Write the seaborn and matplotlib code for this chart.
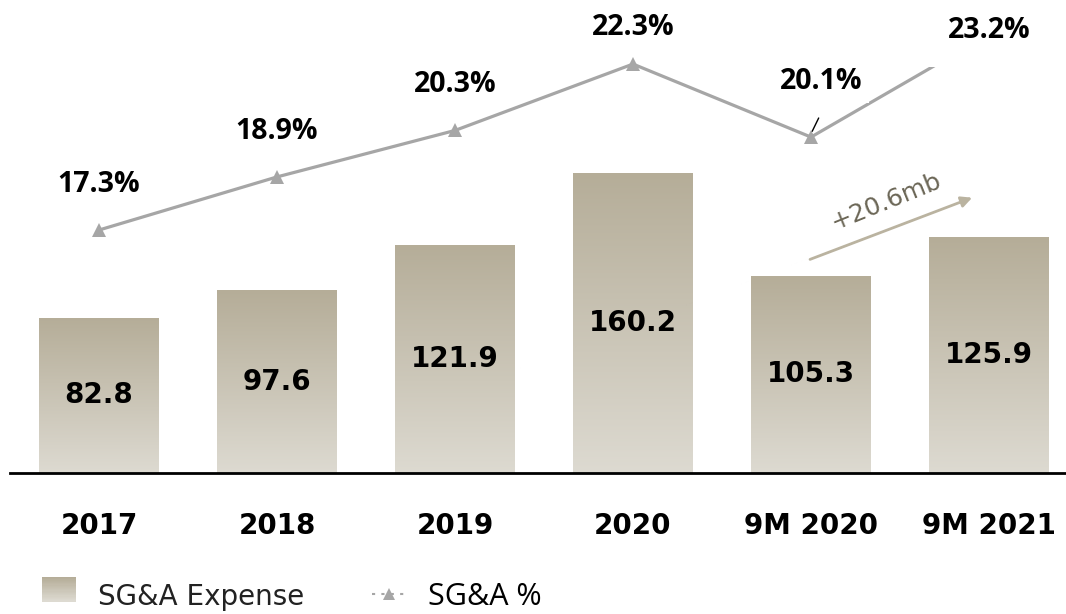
import numpy as np
import pandas as pd
import matplotlib
matplotlib.use("Agg")
from matplotlib import pyplot as plt
from matplotlib.patches import Rectangle
from matplotlib.lines import Line2D
from matplotlib.legend_handler import HandlerBase
import seaborn as sns

# chart data
periods = ["2017", "2018", "2019", "2020", "9M 2020", "9M 2021"]
expense = [82.8, 97.6, 121.9, 160.2, 105.3, 125.9]
sga_pct = [17.3, 18.9, 20.3, 22.3, 20.1, 23.2]
pct_labels = ["17.3%", "18.9%", "20.3%", "22.3%", "20.1%", "23.2%"]
growth_label = "+20.6mb"

TOP = "#b5ad98"
BOTTOM = "#dddad1"
LINE = "#a6a6a6"
PCT_FONT = ["Open Sans", "DejaVu Sans"]

sns.set_style("white")
plt.rcParams["font.family"] = ["DejaVu Sans"]

df = pd.DataFrame({"period": periods, "expense": expense})

fig = plt.figure(figsize=(10.66, 6.14), dpi=100)
ax = fig.add_axes([10 / 1066, 141 / 614, 1068 / 1066, 473 / 614])

sns.barplot(data=df, x="period", y="expense", ax=ax, width=0.674,
            color=TOP, saturation=1)

# vertical gradient inside each bar
cmap = matplotlib.colors.LinearSegmentedColormap.from_list("g", [BOTTOM, TOP])
grad = np.linspace(1, 0, 256).reshape(-1, 1)
for p in ax.patches:
    x0, w, h = p.get_x(), p.get_width(), p.get_height()
    im = ax.imshow(grad, cmap=cmap, extent=[x0, x0 + w, 0, h],
                   aspect="auto", zorder=1, interpolation="bicubic")
    im.set_clip_path(p)
    p.set_facecolor("none")
    p.set_edgecolor("none")
ax.set_xlim(-0.5, 5.5)
ax.set_ylim(0, 252.5)

for i, v in enumerate(expense):
    ax.text(i, v * 0.5, f"{v:.1f}", ha="center", va="center",
            fontsize=20, fontweight="bold", color="black", zorder=3)

for s in ["top", "right", "left"]:
    ax.spines[s].set_visible(False)
ax.spines["bottom"].set_linewidth(2)
ax.spines["bottom"].set_color("black")
ax.set_yticks([])
ax.set_xlabel("")
ax.set_ylabel("")
ax.tick_params(axis="x", length=0, pad=28, labelsize=20, labelcolor="black")
for t in ax.get_xticklabels():
    t.set_fontweight("bold")

# growth arrow
ax.annotate("", xy=(4.92, 147.5), xytext=(3.98, 113.5),
            arrowprops=dict(arrowstyle="-|>", color="#bab3a0", lw=2,
                            mutation_scale=16), zorder=4)
ax.text(4.42, 145, growth_label, rotation=22, ha="center", va="center",
        fontsize=18, color="#6b6656", zorder=4)

# SG&A % line
ax2 = ax.twinx()
sns.lineplot(x=list(range(len(sga_pct))), y=sga_pct, ax=ax2, color=LINE,
             lw=2.3, marker="^", markersize=10, markeredgewidth=0, zorder=2)
ax2.set_ylim(9.98, 24.23)
ax2.set_xlim(-0.5, 5.5)
ax2.set_yticks([])
ax2.set_ylabel("")
for s in ax2.spines.values():
    s.set_visible(False)

offsets = [(0, 33), (0, 33), (0, 33), (0, 26), (7, 40), (0, 3)]
pads = [0.25, 0.25, 0.25, 0.25, 0.25, 0.8]
for i, (v, lab) in enumerate(zip(sga_pct, pct_labels)):
    ax2.annotate(lab, xy=(i, v), xytext=offsets[i], textcoords="offset points",
                 ha="center", va="center", fontsize=20.5, fontweight="bold",
                 family=PCT_FONT, color="black", zorder=5,
                 bbox=dict(boxstyle=f"square,pad={pads[i]}", fc="white",
                           ec="none"))
# leader line for 20.1%
ax2.annotate("", xy=(4, sga_pct[4] + 0.1), xytext=(4.05, sga_pct[4] + 0.65),
             arrowprops=dict(arrowstyle="-", color="black", lw=1), zorder=5)


class GradientHandler(HandlerBase):
    def create_artists(self, legend, orig, xd, yd, w, h, fontsize, trans):
        arts = []
        n = 20
        for k in range(n):
            c = cmap(1 - k / (n - 1))
            r = Rectangle((xd, yd + h - (k + 1) * h / n), w, h / n + 0.3,
                          facecolor=c, edgecolor="none", transform=trans)
            arts.append(r)
        return arts


bar_handle = Rectangle((0, 0), 1, 1)
line_handle = Line2D([], [], color=LINE, ls=(0, (1.5, 3)), lw=1.5,
                     marker="^", markersize=9, markeredgewidth=0)
leg = fig.legend([bar_handle, line_handle], ["SG&A Expense", "SG&A %"],
                 handler_map={bar_handle: GradientHandler()},
                 loc="center left", bbox_to_anchor=(23 / 1066, 17 / 614),
                 ncol=2, frameon=False, fontsize=20, handlelength=1.2,
                 handleheight=1.0, handletextpad=0.8, columnspacing=2.45,
                 borderpad=0.2)
for t in leg.get_texts():
    t.set_color("black")
leg.get_texts()[0].set_color("#222222")
leg.get_texts()[1].set_family(PCT_FONT)
leg.get_texts()[1].set_fontsize(22)

fig.savefig("out.png", dpi=100)
